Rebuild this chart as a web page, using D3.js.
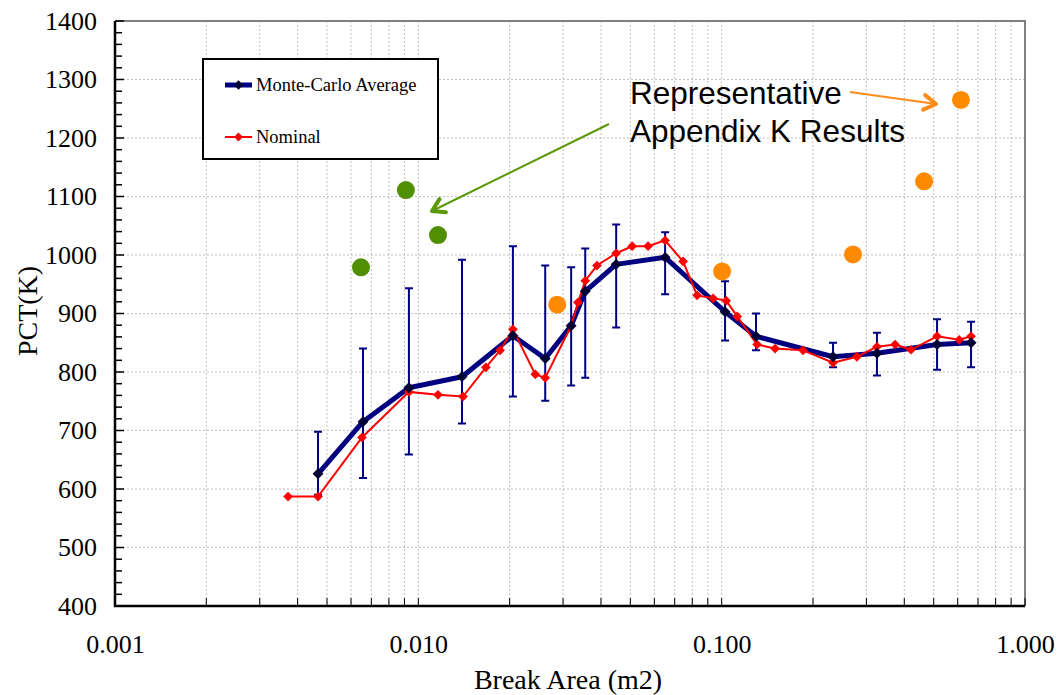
<!DOCTYPE html>
<html>
<head>
<meta charset="utf-8">
<title>PCT vs Break Area</title>
<script src="https://d3js.org/d3.v7.min.js"></script>
<style>
  body { margin: 0; background: #fff; }
  svg { display: block; }
  text { font-family: "Liberation Serif", "Times New Roman", serif; fill: #000; }
  .grid line { stroke: #c0c0c0; stroke-width: 1; stroke-dasharray: 2 2; }
  .tick-label { font-size: 26px; }
  .axis-title { font-size: 28px; }
  .legend text { font-size: 18.5px; }
  .note { font-family: "Liberation Sans", Arial, sans-serif; font-size: 31.5px; }
</style>
</head>
<body>
<svg width="1061" height="695"></svg>
<script>
// Monte-Carlo average (with error bar range)
const mcArea = [0.00467, 0.00657, 0.00931, 0.01393, 0.0205, 0.0262, 0.0319, 0.0355, 0.0449, 0.0651, 0.1026, 0.1298, 0.2329, 0.325, 0.513, 0.664];
const mcPct  = [626, 715, 773, 792, 862, 823, 879, 938, 984, 996, 903, 861, 826, 832, 847, 850];
const mcHigh = [698, 840, 943, 992, 1015, 982, 979, 1011, 1052, 1039, 955, 900, 850, 867, 890, 886];
const mcLow  = [590, 619, 659, 712, 758, 751, 777, 790, 876, 933, 854, 837, 808, 794, 804, 808];

// Nominal
const nomArea = [0.00372, 0.00467, 0.00652, 0.00931, 0.01161, 0.01404, 0.0167, 0.0186, 0.0205, 0.0243, 0.0262, 0.0319, 0.0336, 0.0355, 0.0388, 0.0449, 0.0507, 0.0572, 0.0651, 0.0746, 0.0830, 0.0937, 0.1035, 0.1125, 0.1309, 0.1500, 0.1854, 0.2329, 0.279, 0.325, 0.373, 0.421, 0.513, 0.607, 0.664];
const nomPct  = [587, 587, 688, 766, 761, 758, 808, 837, 873, 796, 790, 879, 919, 956, 982, 1003, 1015, 1015, 1025, 989, 931, 926, 922, 895, 847, 840, 837, 816, 826, 843, 847, 838, 861, 855, 861];

// Representative Appendix K results
const appKSmallArea = [0.00647, 0.0091, 0.01161];
const appKSmallPct  = [979, 1111, 1034];
const appKLargeArea = [0.0287, 0.1003, 0.271, 0.465, 0.615];
const appKLargePct  = [915, 972, 1001, 1126, 1265];

const xTicks = [0.001, 0.01, 0.1, 1];
const yTicks = [400, 500, 600, 700, 800, 900, 1000, 1100, 1200, 1300, 1400];

const svg = d3.select('svg');
const pLeft = 115, pRight = 1025, pTop = 21, pBottom = 606;

const x = d3.scaleLog().domain([0.001, 1]).range([pLeft, pRight]);
const y = d3.scaleLinear().domain([400, 1400]).range([pBottom, pTop]);

// minor x values 2..9 per decade
const xMinor = [];
[0.001, 0.01, 0.1].forEach(d => { for (let k = 2; k <= 9; k++) xMinor.push(d * k); });
const yMinor = d3.range(400, 1401, 20);

// grid
const grid = svg.append('g').attr('class', 'grid');
grid.selectAll('.vx').data(xMinor.concat(xTicks.slice(1, 3))).enter().append('line')
  .attr('x1', d => x(d)).attr('x2', d => x(d)).attr('y1', pTop).attr('y2', pBottom);
grid.selectAll('.hy').data(yTicks.slice(1)).enter().append('line')
  .attr('x1', pLeft).attr('x2', pRight).attr('y1', d => y(d)).attr('y2', d => y(d));

// gray plot border top/right
svg.append('path')
  .attr('d', `M${pLeft},${pTop}H${pRight}V${pBottom}`)
  .attr('fill', 'none').attr('stroke', '#808080').attr('stroke-width', 2);

// y axis
const yAxis = svg.append('g').attr('transform', `translate(${pLeft},0)`)
  .call(d3.axisLeft(y).tickValues(yTicks).tickSize(0).tickPadding(18).tickFormat(d3.format('d')));
yAxis.select('.domain').remove();
yAxis.selectAll('text').attr('class', 'tick-label').attr('font-family', null).attr('font-size', null);
svg.append('g').selectAll('line').data(yMinor).enter().append('line')
  .attr('x1', pLeft).attr('x2', d => pLeft + (d % 100 === 0 ? 9 : 7))
  .attr('y1', d => y(d)).attr('y2', d => y(d))
  .attr('stroke', '#000').attr('stroke-width', 1.5);

// x axis
const xAxis = svg.append('g').attr('transform', `translate(0,${pBottom})`)
  .call(d3.axisBottom(x).tickValues(xTicks).tickSize(0).tickPadding(29).tickFormat(d3.format('.3f')));
xAxis.select('.domain').remove();
xAxis.selectAll('text').attr('class', 'tick-label').attr('font-family', null).attr('font-size', null);
svg.append('g').selectAll('line').data(xMinor.concat(xTicks)).enter().append('line')
  .attr('x1', d => x(d)).attr('x2', d => x(d))
  .attr('y1', pBottom).attr('y2', pBottom - 8)
  .attr('stroke', '#000').attr('stroke-width', 1);

svg.append('path')
  .attr('d', `M${pLeft},${pTop}V${pBottom}H${pRight}`)
  .attr('fill', 'none').attr('stroke', '#000').attr('stroke-width', 2.5);

// axis titles
svg.append('text').attr('class', 'axis-title')
  .attr('x', 568).attr('y', 689).attr('text-anchor', 'middle').text('Break Area (m2)');
svg.append('text').attr('class', 'axis-title')
  .attr('transform', `translate(37,311) rotate(-90)`)
  .attr('text-anchor', 'middle').text('PCT(K)');

// error bars
const mc = mcArea.map((a, i) => ({ a, v: mcPct[i], hi: mcHigh[i], lo: mcLow[i] }));
const eb = svg.append('g').attr('stroke', '#000080').attr('stroke-width', 2).attr('fill', 'none');
eb.selectAll('path').data(mc).enter().append('path')
  .attr('d', d => {
    const cx = x(d.a), y1 = y(d.hi), y2 = y(d.lo);
    return `M${cx - 4},${y1}H${cx + 4}M${cx},${y1}V${y2}M${cx - 4},${y2}H${cx + 4}`;
  });

const nom = nomArea.map((a, i) => ({ a, v: nomPct[i] }));
const line = d3.line().x(d => x(d.a)).y(d => y(d.v));

// Monte-Carlo line
svg.append('path').datum(mc).attr('d', line)
  .attr('fill', 'none').attr('stroke', '#000080').attr('stroke-width', 5).attr('stroke-linejoin', 'round');

// Nominal line
svg.append('path').datum(nom).attr('d', line)
  .attr('fill', 'none').attr('stroke', '#ff0000').attr('stroke-width', 2);
const diamond = d3.symbol().type(d3.symbolDiamond2);
svg.append('g').selectAll('path').data(nom).enter().append('path')
  .attr('transform', d => `translate(${x(d.a)},${y(d.v)})`)
  .attr('d', diamond.size(60)).attr('fill', '#ff0000');

svg.append('g').selectAll('path').data(mc).enter().append('path')
  .attr('transform', d => `translate(${x(d.a)},${y(d.v)})`)
  .attr('d', diamond.size(75)).attr('fill', '#000033');

// Appendix K points
svg.append('g').selectAll('circle').data(appKSmallArea.map((a, i) => ({ a, v: appKSmallPct[i] }))).enter()
  .append('circle').attr('cx', d => x(d.a)).attr('cy', d => y(d.v)).attr('r', 9).attr('fill', '#4f8f00');
svg.append('g').selectAll('circle').data(appKLargeArea.map((a, i) => ({ a, v: appKLargePct[i] }))).enter()
  .append('circle').attr('cx', d => x(d.a)).attr('cy', d => y(d.v)).attr('r', 9).attr('fill', '#ff8a00');

// annotation text and arrows
const note = svg.append('text').attr('class', 'note').attr('x', 630).attr('y', 104);
note.append('tspan').attr('x', 630).text('Representative');
note.append('tspan').attr('x', 630).attr('y', 142).text('Appendix K Results');

function arrow(x1, y1, x2, y2, color) {
  const ang = Math.atan2(y2 - y1, x2 - x1), L = 14, w = 0.55;
  svg.append('line').attr('x1', x1).attr('y1', y1).attr('x2', x2).attr('y2', y2)
    .attr('stroke', color).attr('stroke-width', 2);
  svg.append('path')
    .attr('d', `M${x2 - L * Math.cos(ang - w)},${y2 - L * Math.sin(ang - w)}L${x2},${y2}L${x2 - L * Math.cos(ang + w)},${y2 - L * Math.sin(ang + w)}`)
    .attr('fill', 'none').attr('stroke', color).attr('stroke-width', 4)
    .attr('stroke-linejoin', 'round').attr('stroke-linecap', 'round');
}
arrow(609, 124, 432, 211, '#5a9a08');
arrow(850, 92, 936, 104, '#ff8c1a');

// legend
const lg = svg.append('g').attr('class', 'legend');
lg.append('rect').attr('x', 203).attr('y', 59).attr('width', 235).attr('height', 100)
  .attr('fill', '#fff').attr('stroke', '#000').attr('stroke-width', 2);
lg.append('line').attr('x1', 225).attr('x2', 252).attr('y1', 85).attr('y2', 85)
  .attr('stroke', '#000080').attr('stroke-width', 5);
lg.append('path').attr('transform', 'translate(238.5,85)').attr('d', diamond.size(55)).attr('fill', '#000033');
lg.append('text').attr('x', 256).attr('y', 91).text('Monte-Carlo Average');
lg.append('line').attr('x1', 225).attr('x2', 252).attr('y1', 137).attr('y2', 137)
  .attr('stroke', '#ff0000').attr('stroke-width', 2);
lg.append('path').attr('transform', 'translate(238.5,137)').attr('d', diamond.size(50)).attr('fill', '#ff0000');
lg.append('text').attr('x', 256).attr('y', 143).text('Nominal');
</script>
</body>
</html>
